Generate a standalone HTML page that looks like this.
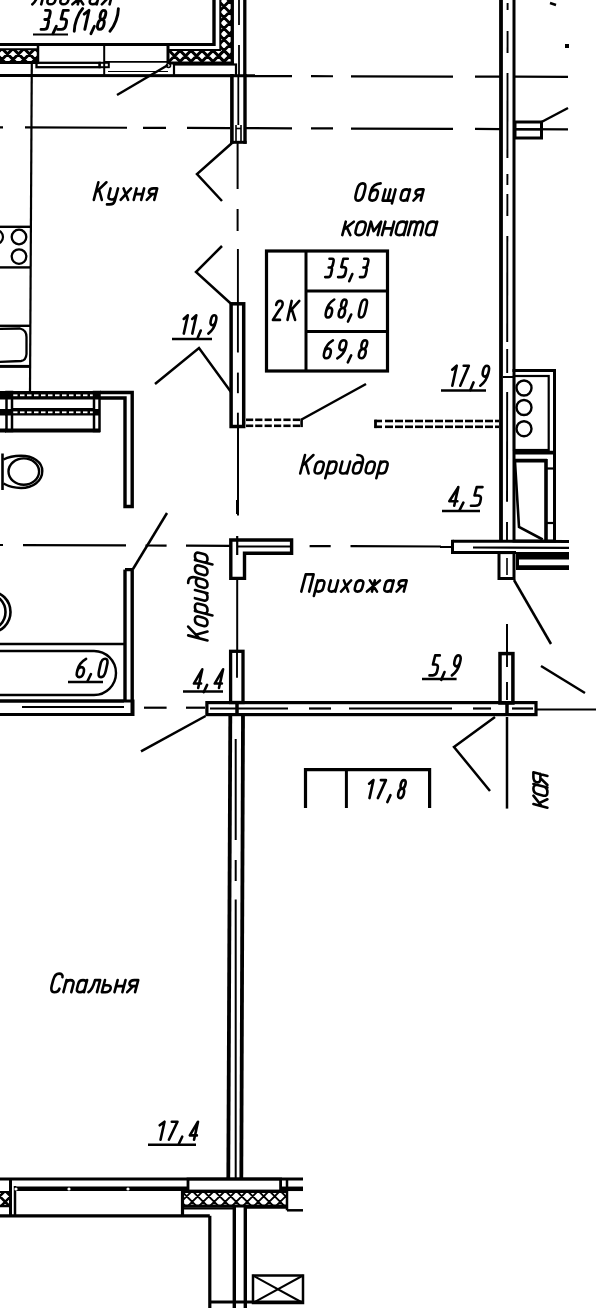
<!DOCTYPE html>
<html><head><meta charset="utf-8"><style>
html,body{margin:0;padding:0;background:#fff;}
body{width:603px;height:1308px;overflow:hidden;}
svg{display:block;}
text{font-family:"Liberation Sans",sans-serif;font-style:italic;fill:#000;stroke:#000;stroke-width:0.55px;}
</style></head><body>
<svg width="603" height="1308" viewBox="0 0 603 1308" stroke="#000" stroke-linecap="butt" fill="none">

<g transform="translate(31,4.3)"><path transform="translate(1.66,0) skewX(-14.57) scale(1.1900,0.9137)" d="M-0.3,0 C2.5,-3 3,-13 3,-20 H7.2 V0" vector-effect="non-scaling-stroke" stroke-width="2.6" stroke-linecap="round" stroke-linejoin="round" fill="none"/><path transform="translate(15.59,0) skewX(-14.57) scale(1.1900,0.8500)" d="M3.25,-14 C5.5,-14 6.5,-12 6.5,-9.5 V-4.5 C6.5,-2 5.5,0 3.25,0 C1,0 0,-2 0,-4.5 V-9.5 C0,-12 1,-14 3.25,-14 Z" vector-effect="non-scaling-stroke" stroke-width="2.6" stroke-linecap="round" stroke-linejoin="round" fill="none"/><path transform="translate(28.51,0) skewX(-14.57) scale(1.1900,0.9137)" d="M0.5,-20 C4.5,-20 6.5,-17 6.5,-12 V-4.2 C6.5,-1.5 5.2,0 3.2,0 C1.3,0 0,-1.5 0,-4.2 V-7.8 C0,-10.5 1.3,-12 3.2,-12 C5.2,-12 6.5,-10.5 6.5,-7.8" vector-effect="non-scaling-stroke" stroke-width="2.6" stroke-linecap="round" stroke-linejoin="round" fill="none"/><path transform="translate(41.43,0) skewX(-14.57) scale(1.1900,0.8500)" d="M0,-14 L9,0 M9,-14 L0,0 M4.5,-14 V0" vector-effect="non-scaling-stroke" stroke-width="2.6" stroke-linecap="round" stroke-linejoin="round" fill="none"/><path transform="translate(57.95,0) skewX(-14.57) scale(1.1900,0.8500)" d="M0,-14 V-4.2 C0,-1.5 1.3,0 3.2,0 C5.2,0 6.5,-1.5 6.5,-4.2 M6.5,-14 V0" vector-effect="non-scaling-stroke" stroke-width="2.6" stroke-linecap="round" stroke-linejoin="round" fill="none"/><path transform="translate(70.87,0) skewX(-14.57) scale(1.1900,0.8500)" d="M6.5,0 V-14 H3.2 C1.2,-14 0,-12.5 0,-10.5 C0,-8.5 1.2,-7 3.2,-7 H6.5 M3.6,-7 L0,0" vector-effect="non-scaling-stroke" stroke-width="2.6" stroke-linecap="round" stroke-linejoin="round" fill="none"/></g>
<path transform="translate(41.36,29.4) skewX(-12.41) scale(1.0495,0.9048)" d="M0,-21 H2.8 C4.2,-21 5,-20 5,-18 V-14 C5,-12 4.2,-11 2.8,-11 H1.2 M2.8,-11 C4.4,-11 5.3,-10 5.3,-8 V-3 C5.3,-1 4.3,0 2.8,0 H-0.3" vector-effect="non-scaling-stroke" stroke-width="2.9" stroke-linecap="round" stroke-linejoin="round" fill="none"/>
<path transform="translate(54.10,29.4) skewX(-12.41) scale(1.0495,0.9048)" d="M1.5,-3.5 L-0.2,4.7" vector-effect="non-scaling-stroke" stroke-width="2.9" stroke-linecap="round" stroke-linejoin="round" fill="none"/>
<path transform="translate(58.49,29.4) skewX(-12.41) scale(1.0495,0.9048)" d="M5.4,-21 H0.6 L0.3,-11.5 H3 C5,-11.5 6.2,-10 6.2,-7.5 V-4 C6.2,-1.5 4.8,0 2.8,0 H-0.8" vector-effect="non-scaling-stroke" stroke-width="2.9" stroke-linecap="round" stroke-linejoin="round" fill="none"/>
<path transform="translate(73.39,29.4) skewX(-12.41) scale(1.0495,0.9048)" d="M4.5,-23 C0.8,-17 -0.2,-6 1.2,2" vector-effect="non-scaling-stroke" stroke-width="2.9" stroke-linecap="round" stroke-linejoin="round" fill="none"/>
<path transform="translate(79.55,29.4) skewX(-12.41) scale(1.0495,0.9048)" d="M5,-21 L5,0 M1.2,-16.8 L5,-21" vector-effect="non-scaling-stroke" stroke-width="2.9" stroke-linecap="round" stroke-linejoin="round" fill="none"/>
<path transform="translate(92.10,29.4) skewX(-12.41) scale(1.0495,0.9048)" d="M1.5,-3.5 L-0.2,4.7" vector-effect="non-scaling-stroke" stroke-width="2.9" stroke-linecap="round" stroke-linejoin="round" fill="none"/>
<path transform="translate(96.62,29.4) skewX(-12.41) scale(1.0495,0.9048)" d="M3,-21 C4.8,-21 5.5,-19 5.5,-16 C5.5,-13 4.6,-11 3,-11 C1.4,-11 0.5,-13 0.5,-16 C0.5,-19 1.2,-21 3,-21 Z M3,-11 C5,-11 6,-9 6,-5.5 C6,-2 5,0 3,0 C1,0 0,-2 0,-5.5 C0,-9 1,-11 3,-11 Z" vector-effect="non-scaling-stroke" stroke-width="2.9" stroke-linecap="round" stroke-linejoin="round" fill="none"/>
<path transform="translate(112.97,29.4) skewX(-12.41) scale(1.0495,0.9048)" d="M0.8,-23 C2.2,-15 1.2,-4 -2.5,2" vector-effect="non-scaling-stroke" stroke-width="2.9" stroke-linecap="round" stroke-linejoin="round" fill="none"/>
<line x1="33" y1="34.5" x2="68" y2="34.5" stroke-width="2.2"/>
<clipPath id="hc1"><rect x="0" y="49" width="37" height="12.5"/></clipPath>
<path clip-path="url(#hc1)" d="M-90.50,44 L-68.00,66.5 M-70.50,44 L-93.00,66.5 M-79.50,44 L-57.00,66.5 M-59.50,44 L-82.00,66.5 M-68.50,44 L-46.00,66.5 M-48.50,44 L-71.00,66.5 M-57.50,44 L-35.00,66.5 M-37.50,44 L-60.00,66.5 M-46.50,44 L-24.00,66.5 M-26.50,44 L-49.00,66.5 M-35.50,44 L-13.00,66.5 M-15.50,44 L-38.00,66.5 M-24.50,44 L-2.00,66.5 M-4.50,44 L-27.00,66.5 M-13.50,44 L9.00,66.5 M6.50,44 L-16.00,66.5 M-2.50,44 L20.00,66.5 M17.50,44 L-5.00,66.5 M8.50,44 L31.00,66.5 M28.50,44 L6.00,66.5 M19.50,44 L42.00,66.5 M39.50,44 L17.00,66.5 M30.50,44 L53.00,66.5 M50.50,44 L28.00,66.5 M41.50,44 L64.00,66.5 M61.50,44 L39.00,66.5 M52.50,44 L75.00,66.5 M72.50,44 L50.00,66.5 M63.50,44 L86.00,66.5 M83.50,44 L61.00,66.5 M74.50,44 L97.00,66.5 M94.50,44 L72.00,66.5 M85.50,44 L108.00,66.5 M105.50,44 L83.00,66.5 M96.50,44 L119.00,66.5 M116.50,44 L94.00,66.5" stroke-width="3"/>
<line x1="0" y1="44.5" x2="214" y2="44.5" stroke-width="3.2"/>
<line x1="214" y1="0" x2="214" y2="46" stroke-width="3.4"/>
<line x1="0" y1="49.3" x2="37" y2="49.3" stroke-width="2"/>
<line x1="0" y1="62.5" x2="38" y2="62.5" stroke-width="3"/>
<line x1="38" y1="44" x2="38" y2="64" stroke-width="2.5"/>
<line x1="31.8" y1="62" x2="30" y2="392" stroke-width="2.2"/>
<rect x="36.5" y="62.8" width="63.099999999999994" height="4.400000000000006" stroke-width="2.3" fill="none"/>
<rect x="99.6" y="62.8" width="9.200000000000003" height="4.400000000000006" stroke-width="2" fill="none"/>
<line x1="104.2" y1="44.5" x2="104.2" y2="75.8" stroke-width="2"/>
<line x1="104" y1="61.9" x2="168" y2="61.9" stroke-width="1.8"/>
<line x1="108" y1="71.5" x2="168" y2="71.5" stroke-width="1.2"/>
<circle cx="168.5" cy="65.5" r="2" stroke-width="1.6" fill="none"/>
<line x1="0" y1="75.5" x2="292" y2="75.8" stroke-width="3"/>
<clipPath id="hc2"><rect x="169" y="50" width="63" height="12"/></clipPath>
<path clip-path="url(#hc2)" d="M75.50,45 L97.50,67 M97.50,45 L75.50,67 M86.50,45 L108.50,67 M108.50,45 L86.50,67 M97.50,45 L119.50,67 M119.50,45 L97.50,67 M108.50,45 L130.50,67 M130.50,45 L108.50,67 M119.50,45 L141.50,67 M141.50,45 L119.50,67 M130.50,45 L152.50,67 M152.50,45 L130.50,67 M141.50,45 L163.50,67 M163.50,45 L141.50,67 M152.50,45 L174.50,67 M174.50,45 L152.50,67 M163.50,45 L185.50,67 M185.50,45 L163.50,67 M174.50,45 L196.50,67 M196.50,45 L174.50,67 M185.50,45 L207.50,67 M207.50,45 L185.50,67 M196.50,45 L218.50,67 M218.50,45 L196.50,67 M207.50,45 L229.50,67 M229.50,45 L207.50,67 M218.50,45 L240.50,67 M240.50,45 L218.50,67 M229.50,45 L251.50,67 M251.50,45 L229.50,67 M240.50,45 L262.50,67 M262.50,45 L240.50,67 M251.50,45 L273.50,67 M273.50,45 L251.50,67 M262.50,45 L284.50,67 M284.50,45 L262.50,67 M273.50,45 L295.50,67 M295.50,45 L273.50,67 M284.50,45 L306.50,67 M306.50,45 L284.50,67 M295.50,45 L317.50,67 M317.50,45 L295.50,67" stroke-width="3"/>
<clipPath id="hc3"><rect x="220" y="0" width="12" height="62"/></clipPath>
<path clip-path="url(#hc3)" d="M25.50,-5 L97.50,67 M147.50,-5 L75.50,67 M36.50,-5 L108.50,67 M158.50,-5 L86.50,67 M47.50,-5 L119.50,67 M169.50,-5 L97.50,67 M58.50,-5 L130.50,67 M180.50,-5 L108.50,67 M69.50,-5 L141.50,67 M191.50,-5 L119.50,67 M80.50,-5 L152.50,67 M202.50,-5 L130.50,67 M91.50,-5 L163.50,67 M213.50,-5 L141.50,67 M102.50,-5 L174.50,67 M224.50,-5 L152.50,67 M113.50,-5 L185.50,67 M235.50,-5 L163.50,67 M124.50,-5 L196.50,67 M246.50,-5 L174.50,67 M135.50,-5 L207.50,67 M257.50,-5 L185.50,67 M146.50,-5 L218.50,67 M268.50,-5 L196.50,67 M157.50,-5 L229.50,67 M279.50,-5 L207.50,67 M168.50,-5 L240.50,67 M290.50,-5 L218.50,67 M179.50,-5 L251.50,67 M301.50,-5 L229.50,67 M190.50,-5 L262.50,67 M312.50,-5 L240.50,67 M201.50,-5 L273.50,67 M323.50,-5 L251.50,67 M212.50,-5 L284.50,67 M334.50,-5 L262.50,67 M223.50,-5 L295.50,67 M345.50,-5 L273.50,67 M234.50,-5 L306.50,67 M356.50,-5 L284.50,67 M245.50,-5 L317.50,67 M367.50,-5 L295.50,67 M256.50,-5 L328.50,67 M378.50,-5 L306.50,67 M267.50,-5 L339.50,67 M389.50,-5 L317.50,67 M278.50,-5 L350.50,67 M400.50,-5 L328.50,67 M289.50,-5 L361.50,67 M411.50,-5 L339.50,67 M300.50,-5 L372.50,67 M422.50,-5 L350.50,67" stroke-width="3"/>
<line x1="168" y1="44" x2="168" y2="63" stroke-width="3"/>
<line x1="232.3" y1="0" x2="232.3" y2="64" stroke-width="3.3"/>
<line x1="220.3" y1="0" x2="220.3" y2="50" stroke-width="2"/>
<line x1="168" y1="50" x2="221" y2="50" stroke-width="2"/>
<line x1="169" y1="63" x2="234" y2="63" stroke-width="3"/>
<rect x="174" y="64.5" width="62" height="11.299999999999997" stroke-width="2.2" fill="none"/>
<line x1="239.0" y1="0" x2="239.0" y2="25" stroke-width="1.8"/>
<line x1="239.0" y1="45" x2="239.0" y2="76" stroke-width="1.8"/>
<line x1="244.8" y1="0" x2="244.8" y2="76" stroke-width="3.3"/>
<line x1="231.9" y1="74" x2="231.9" y2="143.8" stroke-width="3.6"/>
<line x1="245" y1="74" x2="245" y2="143.8" stroke-width="3.4"/>
<line x1="230.2" y1="142.3" x2="246.6" y2="142.3" stroke-width="3"/>
<line x1="238.3" y1="76" x2="238.3" y2="125" stroke-width="1.8"/>
<line x1="236" y1="125" x2="236" y2="141" stroke-width="1.6"/>
<line x1="241" y1="125" x2="241" y2="141" stroke-width="1.6"/>
<line x1="236" y1="128.5" x2="241" y2="128.5" stroke-width="1.6"/>
<line x1="117" y1="95" x2="168" y2="65" stroke-width="2.5"/>
<line x1="0" y1="127.3" x2="3" y2="127.31" stroke-width="2.2"/>
<line x1="25" y1="127.39" x2="127" y2="127.75" stroke-width="2.2"/>
<line x1="143" y1="127.8" x2="166" y2="127.88" stroke-width="2.2"/>
<line x1="187" y1="127.96" x2="230" y2="128.11" stroke-width="2.2"/>
<line x1="246" y1="128.17" x2="292" y2="128.33" stroke-width="2.2"/>
<line x1="311" y1="128.4" x2="333" y2="128.47" stroke-width="2.2"/>
<line x1="351" y1="128.54" x2="453" y2="128.9" stroke-width="2.2"/>
<line x1="475" y1="128.97" x2="500" y2="129.06" stroke-width="2.2"/>
<line x1="515" y1="129.11" x2="568" y2="129.3" stroke-width="2.2"/>
<line x1="311" y1="76.21" x2="333" y2="76.26" stroke-width="2.2"/>
<line x1="351" y1="76.3" x2="453" y2="76.54" stroke-width="2.2"/>
<line x1="475" y1="76.59" x2="500" y2="76.64" stroke-width="2.2"/>
<line x1="515" y1="76.68" x2="568" y2="76.8" stroke-width="2.2"/>
<line x1="501" y1="0" x2="501" y2="541" stroke-width="3.8"/>
<line x1="514" y1="0" x2="514" y2="372" stroke-width="3"/>
<line x1="507.6" y1="3" x2="507.59" y2="10" stroke-width="1.9"/>
<line x1="507.57" y1="31" x2="507.54" y2="53" stroke-width="1.9"/>
<line x1="507.52" y1="73" x2="507.42" y2="158" stroke-width="1.9"/>
<line x1="507.41" y1="174" x2="507.39" y2="185" stroke-width="1.9"/>
<line x1="507.38" y1="194" x2="507.36" y2="216" stroke-width="1.9"/>
<line x1="507.34" y1="236" x2="507.22" y2="342" stroke-width="1.9"/>
<line x1="507.21" y1="349" x2="507.19" y2="373" stroke-width="1.9"/>
<line x1="507.17" y1="392" x2="507.04" y2="501.7" stroke-width="1.9"/>
<line x1="507.02" y1="522" x2="507.0" y2="541" stroke-width="1.9"/>
<rect x="515" y="122" width="26.5" height="16" stroke-width="3" fill="none"/>
<line x1="515" y1="129.5" x2="541.5" y2="129.5" stroke-width="2"/>
<line x1="541.5" y1="122" x2="568" y2="108" stroke-width="2.5"/>
<line x1="550" y1="3" x2="556" y2="5" stroke-width="2.5"/>
<rect x="565" y="44" width="4" height="4" stroke="none" fill="#000"/>
<g transform="translate(92.5,199.9)"><path transform="translate(1.30,0) skewX(-14.57) scale(1.1480,0.8815)" d="M0,0 V-20 M7,-20 L0.3,-8.8 M2.4,-11.2 L7,0" vector-effect="non-scaling-stroke" stroke-width="2.6" stroke-linecap="round" stroke-linejoin="round" fill="none"/><path transform="translate(15.08,0) skewX(-14.57) scale(1.1480,0.8200)" d="M0,-14 V-5 C0,-2 1.3,-0.5 3.2,-0.5 C5,-0.5 6.5,-2 6.5,-5 M6.5,-14 V1.5 C6.5,4 5,5.5 3,5.5 H0.5" vector-effect="non-scaling-stroke" stroke-width="2.6" stroke-linecap="round" stroke-linejoin="round" fill="none"/><path transform="translate(28.14,0) skewX(-14.57) scale(1.1480,0.8200)" d="M0,-14 L6.5,0 M6.5,-14 L0,0" vector-effect="non-scaling-stroke" stroke-width="2.6" stroke-linecap="round" stroke-linejoin="round" fill="none"/><path transform="translate(41.20,0) skewX(-14.57) scale(1.1480,0.8200)" d="M0,-14 V0 M6.5,-14 V0 M0,-7 H6.5" vector-effect="non-scaling-stroke" stroke-width="2.6" stroke-linecap="round" stroke-linejoin="round" fill="none"/><path transform="translate(54.25,0) skewX(-14.57) scale(1.1480,0.8200)" d="M6.5,0 V-14 H3.2 C1.2,-14 0,-12.5 0,-10.5 C0,-8.5 1.2,-7 3.2,-7 H6.5 M3.6,-7 L0,0" vector-effect="non-scaling-stroke" stroke-width="2.6" stroke-linecap="round" stroke-linejoin="round" fill="none"/></g>
<polyline points="232,143 197,174 222,201" stroke-width="2.5" fill="none"/>
<line x1="237.6" y1="143" x2="237.6" y2="189" stroke-width="2"/>
<line x1="237.6" y1="209" x2="237.6" y2="231" stroke-width="2"/>
<polyline points="222,246 196,272 231,303.8" stroke-width="2.5" fill="none"/>
<rect x="231.1" y="303.8" width="12.599999999999994" height="122.69999999999999" stroke-width="3.5" fill="none"/>
<line x1="237.9" y1="249" x2="237.9" y2="352.5" stroke-width="1.9"/>
<line x1="237.9" y1="372.6" x2="237.9" y2="393.2" stroke-width="1.9"/>
<line x1="237.9" y1="412.7" x2="237.9" y2="427" stroke-width="1.9"/>
<line x1="-2" y1="226.8" x2="30" y2="226.8" stroke-width="2.4"/>
<line x1="-2" y1="267.4" x2="30" y2="267.4" stroke-width="2.4"/>
<circle cx="19" cy="237" r="7.3" stroke-width="2.3" fill="none"/>
<circle cx="19" cy="256.6" r="7.3" stroke-width="2.3" fill="none"/>
<circle cx="-4" cy="237" r="7" stroke-width="2.2" fill="none"/>
<line x1="-2" y1="325.8" x2="30" y2="325.8" stroke-width="2.4"/>
<line x1="-2" y1="366.4" x2="30" y2="366.4" stroke-width="3"/>
<path d="M-2,329 L20,328.5 Q26.5,330 26.5,337 L26.5,354 Q26,360.5 21,361 L-2,362" stroke-width="2.3" fill="none"/>
<rect x="266.5" y="251" width="121.0" height="120" stroke-width="3.2" fill="none"/>
<line x1="306" y1="251" x2="306" y2="371" stroke-width="3"/>
<line x1="306" y1="291" x2="387.5" y2="291" stroke-width="3"/>
<line x1="306" y1="331.5" x2="387.5" y2="331.5" stroke-width="3"/>
<path transform="translate(272.90,319.9) skewX(-12.41) scale(1.2667,0.9048)" d="M0,-16.5 C0,-19.5 1.2,-21 2.5,-21 C3.8,-21 5,-19.5 5,-16.5 C5,-14 4.2,-12.5 3.3,-11 L0,0 H5.6" vector-effect="non-scaling-stroke" stroke-width="2.6" stroke-linecap="round" stroke-linejoin="round" fill="none"/>
<path transform="translate(287.52,319.9) skewX(-12.41) scale(1.2667,0.9048)" d="M0,0 V-21 M6,-21 L0,-8.5 M1.8,-11 L6,0" vector-effect="non-scaling-stroke" stroke-width="2.6" stroke-linecap="round" stroke-linejoin="round" fill="none"/>
<path transform="translate(325.48,277.1) skewX(-12.41) scale(0.9222,0.8714)" d="M0,-21 H2.8 C4.2,-21 5,-20 5,-18 V-14 C5,-12 4.2,-11 2.8,-11 H1.2 M2.8,-11 C4.4,-11 5.3,-10 5.3,-8 V-3 C5.3,-1 4.3,0 2.8,0 H-0.3" vector-effect="non-scaling-stroke" stroke-width="2.6" stroke-linecap="round" stroke-linejoin="round" fill="none"/>
<path transform="translate(338.80,277.1) skewX(-12.41) scale(0.9222,0.8714)" d="M5.4,-21 H0.6 L0.3,-11.5 H3 C5,-11.5 6.2,-10 6.2,-7.5 V-4 C6.2,-1.5 4.8,0 2.8,0 H-0.8" vector-effect="non-scaling-stroke" stroke-width="2.6" stroke-linecap="round" stroke-linejoin="round" fill="none"/>
<path transform="translate(350.29,277.1) skewX(-12.41) scale(0.9222,0.8714)" d="M1.5,-3.5 L-0.2,4.7" vector-effect="non-scaling-stroke" stroke-width="2.6" stroke-linecap="round" stroke-linejoin="round" fill="none"/>
<path transform="translate(360.22,277.1) skewX(-12.41) scale(0.9222,0.8714)" d="M0,-21 H2.8 C4.2,-21 5,-20 5,-18 V-14 C5,-12 4.2,-11 2.8,-11 H1.2 M2.8,-11 C4.4,-11 5.3,-10 5.3,-8 V-3 C5.3,-1 4.3,0 2.8,0 H-0.3" vector-effect="non-scaling-stroke" stroke-width="2.6" stroke-linecap="round" stroke-linejoin="round" fill="none"/>
<path transform="translate(324.82,317.5) skewX(-12.41) scale(0.9931,0.8571)" d="M5.5,-21 C2,-18 0,-13 0,-8 V-5 C0,-2 1.3,0 3,0 C4.7,0 6,-2 6,-5 V-6.5 C6,-9.5 4.7,-11.5 3,-11.5 C1.3,-11.5 0,-9.5 0,-6.5" vector-effect="non-scaling-stroke" stroke-width="2.6" stroke-linecap="round" stroke-linejoin="round" fill="none"/>
<path transform="translate(337.86,317.5) skewX(-12.41) scale(0.9931,0.8571)" d="M3,-21 C4.8,-21 5.5,-19 5.5,-16 C5.5,-13 4.6,-11 3,-11 C1.4,-11 0.5,-13 0.5,-16 C0.5,-19 1.2,-21 3,-21 Z M3,-11 C5,-11 6,-9 6,-5.5 C6,-2 5,0 3,0 C1,0 0,-2 0,-5.5 C0,-9 1,-11 3,-11 Z" vector-effect="non-scaling-stroke" stroke-width="2.6" stroke-linecap="round" stroke-linejoin="round" fill="none"/>
<path transform="translate(349.08,317.5) skewX(-12.41) scale(0.9931,0.8571)" d="M1.5,-3.5 L-0.2,4.7" vector-effect="non-scaling-stroke" stroke-width="2.6" stroke-linecap="round" stroke-linejoin="round" fill="none"/>
<path transform="translate(357.96,317.5) skewX(-12.41) scale(0.9931,0.8571)" d="M3,-21 C5.6,-21 6,-17.5 6,-14 V-7 C6,-3.5 5.6,0 3,0 C0.4,0 0,-3.5 0,-7 V-14 C0,-17.5 0.4,-21 3,-21 Z" vector-effect="non-scaling-stroke" stroke-width="2.6" stroke-linecap="round" stroke-linejoin="round" fill="none"/>
<path transform="translate(323.01,358.3) skewX(-12.41) scale(1.0799,0.8571)" d="M5.5,-21 C2,-18 0,-13 0,-8 V-5 C0,-2 1.3,0 3,0 C4.7,0 6,-2 6,-5 V-6.5 C6,-9.5 4.7,-11.5 3,-11.5 C1.3,-11.5 0,-9.5 0,-6.5" vector-effect="non-scaling-stroke" stroke-width="2.6" stroke-linecap="round" stroke-linejoin="round" fill="none"/>
<path transform="translate(336.77,358.3) skewX(-12.41) scale(1.0799,0.8571)" d="M0.5,0 C4,-3 6,-8 6,-13 V-16 C6,-19 4.7,-21 3,-21 C1.3,-21 0,-19 0,-16 V-14.5 C0,-11.5 1.3,-9.5 3,-9.5 C4.7,-9.5 6,-11.5 6,-14.5" vector-effect="non-scaling-stroke" stroke-width="2.6" stroke-linecap="round" stroke-linejoin="round" fill="none"/>
<path transform="translate(348.92,358.3) skewX(-12.41) scale(1.0799,0.8571)" d="M1.5,-3.5 L-0.2,4.7" vector-effect="non-scaling-stroke" stroke-width="2.6" stroke-linecap="round" stroke-linejoin="round" fill="none"/>
<path transform="translate(358.01,358.3) skewX(-12.41) scale(1.0799,0.8571)" d="M3,-21 C4.8,-21 5.5,-19 5.5,-16 C5.5,-13 4.6,-11 3,-11 C1.4,-11 0.5,-13 0.5,-16 C0.5,-19 1.2,-21 3,-21 Z M3,-11 C5,-11 6,-9 6,-5.5 C6,-2 5,0 3,0 C1,0 0,-2 0,-5.5 C0,-9 1,-11 3,-11 Z" vector-effect="non-scaling-stroke" stroke-width="2.6" stroke-linecap="round" stroke-linejoin="round" fill="none"/>
<g transform="translate(354.1,200.6)"><path transform="translate(0.17,0) skewX(-14.57) scale(1.1200,0.8600)" d="M3.5,-20 C6.3,-20 7,-16.5 7,-13 V-7 C7,-3.5 6.3,0 3.5,0 C0.7,0 0,-3.5 0,-7 V-13 C0,-16.5 0.7,-20 3.5,-20 Z" vector-effect="non-scaling-stroke" stroke-width="2.6" stroke-linecap="round" stroke-linejoin="round" fill="none"/><path transform="translate(14.46,0) skewX(-14.57) scale(1.1200,0.8600)" d="M6.8,-20 C3,-19.5 0.3,-17.5 0,-12 V-4.2 C0,-1.5 1.3,0 3.3,0 C5.3,0 6.6,-1.5 6.6,-4.2 V-8.3 C6.6,-11 5.3,-12.5 3.3,-12.5 C1.3,-12.5 0,-11 0,-8.3" vector-effect="non-scaling-stroke" stroke-width="2.6" stroke-linecap="round" stroke-linejoin="round" fill="none"/><path transform="translate(28.46,0) skewX(-14.57) scale(1.1200,0.8000)" d="M0,-14 V0 H9 V-14 M4.5,-14 V0 M9,0 V3.5" vector-effect="non-scaling-stroke" stroke-width="2.6" stroke-linecap="round" stroke-linejoin="round" fill="none"/><path transform="translate(45.76,0) skewX(-14.57) scale(1.1200,0.8000)" d="M6.5,-14 V0 M6.5,-4 C6.5,-1.5 5,0 3.2,0 C1.3,0 0,-1.5 0,-4 V-10 C0,-12.5 1.3,-14 3.2,-14 C5,-14 6.5,-12.5 6.5,-10" vector-effect="non-scaling-stroke" stroke-width="2.6" stroke-linecap="round" stroke-linejoin="round" fill="none"/><path transform="translate(59.31,0) skewX(-14.57) scale(1.1200,0.8000)" d="M6.5,0 V-14 H3.2 C1.2,-14 0,-12.5 0,-10.5 C0,-8.5 1.2,-7 3.2,-7 H6.5 M3.6,-7 L0,0" vector-effect="non-scaling-stroke" stroke-width="2.6" stroke-linecap="round" stroke-linejoin="round" fill="none"/></g>
<g transform="translate(341,235.1)"><path transform="translate(1.30,0) skewX(-14.57) scale(1.3440,0.9600)" d="M0,0 V-14 M6,-14 L0.3,-6 M2,-7.8 L6,0" vector-effect="non-scaling-stroke" stroke-width="2.6" stroke-linecap="round" stroke-linejoin="round" fill="none"/><path transform="translate(13.52,0) skewX(-14.57) scale(1.3440,0.9600)" d="M3.25,-14 C5.5,-14 6.5,-12 6.5,-9.5 V-4.5 C6.5,-2 5.5,0 3.25,0 C1,0 0,-2 0,-4.5 V-9.5 C0,-12 1,-14 3.25,-14 Z" vector-effect="non-scaling-stroke" stroke-width="2.6" stroke-linecap="round" stroke-linejoin="round" fill="none"/><path transform="translate(26.46,0) skewX(-14.57) scale(1.3440,0.9600)" d="M0,0 V-14 L3.8,-4 L7.6,-14 V0" vector-effect="non-scaling-stroke" stroke-width="2.6" stroke-linecap="round" stroke-linejoin="round" fill="none"/><path transform="translate(40.98,0) skewX(-14.57) scale(1.3440,0.9600)" d="M0,-14 V0 M6.5,-14 V0 M0,-7 H6.5" vector-effect="non-scaling-stroke" stroke-width="2.6" stroke-linecap="round" stroke-linejoin="round" fill="none"/><path transform="translate(53.92,0) skewX(-14.57) scale(1.3440,0.9600)" d="M6.5,-14 V0 M6.5,-4 C6.5,-1.5 5,0 3.2,0 C1.3,0 0,-1.5 0,-4 V-10 C0,-12.5 1.3,-14 3.2,-14 C5,-14 6.5,-12.5 6.5,-10" vector-effect="non-scaling-stroke" stroke-width="2.6" stroke-linecap="round" stroke-linejoin="round" fill="none"/><path transform="translate(66.86,0) skewX(-14.57) scale(1.3440,0.9600)" d="M0,0 V-14 M0,-10 C0,-12.5 1,-14 2.4,-14 C3.8,-14 4.7,-12.5 4.7,-10 V0 M4.7,-10 C4.7,-12.5 5.6,-14 7,-14 C8.4,-14 9.4,-12.5 9.4,-10 V0" vector-effect="non-scaling-stroke" stroke-width="2.6" stroke-linecap="round" stroke-linejoin="round" fill="none"/><path transform="translate(83.97,0) skewX(-14.57) scale(1.3440,0.9600)" d="M6.5,-14 V0 M6.5,-4 C6.5,-1.5 5,0 3.2,0 C1.3,0 0,-1.5 0,-4 V-10 C0,-12.5 1.3,-14 3.2,-14 C5,-14 6.5,-12.5 6.5,-10" vector-effect="non-scaling-stroke" stroke-width="2.6" stroke-linecap="round" stroke-linejoin="round" fill="none"/></g>
<path transform="translate(179.43,333.6) skewX(-12.41) scale(0.8714,0.8714)" d="M5,-21 L5,0 M1.2,-16.8 L5,-21" vector-effect="non-scaling-stroke" stroke-width="2.6" stroke-linecap="round" stroke-linejoin="round" fill="none"/>
<path transform="translate(187.93,333.6) skewX(-12.41) scale(0.8714,0.8714)" d="M5,-21 L5,0 M1.2,-16.8 L5,-21" vector-effect="non-scaling-stroke" stroke-width="2.6" stroke-linecap="round" stroke-linejoin="round" fill="none"/>
<path transform="translate(198.79,333.6) skewX(-12.41) scale(0.8714,0.8714)" d="M1.5,-3.5 L-0.2,4.7" vector-effect="non-scaling-stroke" stroke-width="2.6" stroke-linecap="round" stroke-linejoin="round" fill="none"/>
<path transform="translate(207.91,333.6) skewX(-12.41) scale(0.8714,0.8714)" d="M0.5,0 C4,-3 6,-8 6,-13 V-16 C6,-19 4.7,-21 3,-21 C1.3,-21 0,-19 0,-16 V-14.5 C0,-11.5 1.3,-9.5 3,-9.5 C4.7,-9.5 6,-11.5 6,-14.5" vector-effect="non-scaling-stroke" stroke-width="2.6" stroke-linecap="round" stroke-linejoin="round" fill="none"/>
<line x1="172" y1="339" x2="212" y2="339" stroke-width="2.5"/>
<polyline points="155,384 199,348 231,392" stroke-width="2.5" fill="none"/>
<path transform="translate(447.54,385.7) skewX(-12.41) scale(0.9524,0.9524)" d="M5,-21 L5,0 M1.2,-16.8 L5,-21" vector-effect="non-scaling-stroke" stroke-width="2.6" stroke-linecap="round" stroke-linejoin="round" fill="none"/>
<path transform="translate(459.47,385.7) skewX(-12.41) scale(0.9524,0.9524)" d="M-0.2,-21 H5.2 L0.8,0" vector-effect="non-scaling-stroke" stroke-width="2.6" stroke-linecap="round" stroke-linejoin="round" fill="none"/>
<path transform="translate(471.40,385.7) skewX(-12.41) scale(0.9524,0.9524)" d="M1.5,-3.5 L-0.2,4.7" vector-effect="non-scaling-stroke" stroke-width="2.6" stroke-linecap="round" stroke-linejoin="round" fill="none"/>
<path transform="translate(479.82,385.7) skewX(-12.41) scale(0.9524,0.9524)" d="M0.5,0 C4,-3 6,-8 6,-13 V-16 C6,-19 4.7,-21 3,-21 C1.3,-21 0,-19 0,-16 V-14.5 C0,-11.5 1.3,-9.5 3,-9.5 C4.7,-9.5 6,-11.5 6,-14.5" vector-effect="non-scaling-stroke" stroke-width="2.6" stroke-linecap="round" stroke-linejoin="round" fill="none"/>
<line x1="441" y1="390.5" x2="486" y2="390.5" stroke-width="2.5"/>
<line x1="246" y1="419.8" x2="253.2" y2="419.8" stroke-width="2.6"/>
<line x1="255.2" y1="419.8" x2="262.4" y2="419.8" stroke-width="2.6"/>
<line x1="264.59999999999997" y1="419.8" x2="271.79999999999995" y2="419.8" stroke-width="2.6"/>
<line x1="274.0" y1="419.8" x2="281.2" y2="419.8" stroke-width="2.6"/>
<line x1="283.4" y1="419.8" x2="290.59999999999997" y2="419.8" stroke-width="2.6"/>
<line x1="292.8" y1="419.8" x2="300.0" y2="419.8" stroke-width="2.6"/>
<line x1="246" y1="425.8" x2="253.2" y2="425.8" stroke-width="2.6"/>
<line x1="255.2" y1="425.8" x2="262.4" y2="425.8" stroke-width="2.6"/>
<line x1="264.59999999999997" y1="425.8" x2="271.79999999999995" y2="425.8" stroke-width="2.6"/>
<line x1="274.0" y1="425.8" x2="281.2" y2="425.8" stroke-width="2.6"/>
<line x1="283.4" y1="425.8" x2="290.59999999999997" y2="425.8" stroke-width="2.6"/>
<line x1="292.8" y1="425.8" x2="300.0" y2="425.8" stroke-width="2.6"/>
<line x1="301.6" y1="418.5" x2="301.6" y2="427.1" stroke-width="2.6"/>
<line x1="301.6" y1="419.5" x2="366" y2="384" stroke-width="2.5"/>
<line x1="374.5" y1="421.0" x2="382" y2="421.0" stroke-width="2.6"/>
<line x1="385" y1="421.0" x2="393" y2="421.0" stroke-width="2.6"/>
<line x1="395" y1="421.0" x2="403" y2="421.0" stroke-width="2.6"/>
<line x1="405" y1="421.0" x2="413" y2="421.0" stroke-width="2.6"/>
<line x1="415" y1="421.0" x2="423" y2="421.0" stroke-width="2.6"/>
<line x1="425" y1="421.0" x2="433" y2="421.0" stroke-width="2.6"/>
<line x1="435" y1="421.0" x2="443" y2="421.0" stroke-width="2.6"/>
<line x1="445" y1="421.0" x2="453" y2="421.0" stroke-width="2.6"/>
<line x1="455" y1="421.0" x2="463" y2="421.0" stroke-width="2.6"/>
<line x1="465" y1="421.0" x2="473" y2="421.0" stroke-width="2.6"/>
<line x1="475" y1="421.0" x2="483" y2="421.0" stroke-width="2.6"/>
<line x1="485" y1="421.0" x2="493" y2="421.0" stroke-width="2.6"/>
<line x1="495" y1="421.0" x2="499" y2="421.0" stroke-width="2.6"/>
<line x1="374.5" y1="426.8" x2="382" y2="426.8" stroke-width="2.6"/>
<line x1="385" y1="426.8" x2="393" y2="426.8" stroke-width="2.6"/>
<line x1="395" y1="426.8" x2="403" y2="426.8" stroke-width="2.6"/>
<line x1="405" y1="426.8" x2="413" y2="426.8" stroke-width="2.6"/>
<line x1="415" y1="426.8" x2="423" y2="426.8" stroke-width="2.6"/>
<line x1="425" y1="426.8" x2="433" y2="426.8" stroke-width="2.6"/>
<line x1="435" y1="426.8" x2="443" y2="426.8" stroke-width="2.6"/>
<line x1="445" y1="426.8" x2="453" y2="426.8" stroke-width="2.6"/>
<line x1="455" y1="426.8" x2="463" y2="426.8" stroke-width="2.6"/>
<line x1="465" y1="426.8" x2="473" y2="426.8" stroke-width="2.6"/>
<line x1="475" y1="426.8" x2="483" y2="426.8" stroke-width="2.6"/>
<line x1="485" y1="426.8" x2="493" y2="426.8" stroke-width="2.6"/>
<line x1="495" y1="426.8" x2="499" y2="426.8" stroke-width="2.6"/>
<line x1="375.5" y1="419.7" x2="375.5" y2="428.1" stroke-width="2.8"/>
<g transform="translate(298.9,473.5)"><path transform="translate(1.30,0) skewX(-14.57) scale(1.2040,0.9245)" d="M0,0 V-20 M7,-20 L0.3,-8.8 M2.4,-11.2 L7,0" vector-effect="non-scaling-stroke" stroke-width="2.6" stroke-linecap="round" stroke-linejoin="round" fill="none"/><path transform="translate(14.78,0) skewX(-14.57) scale(1.2040,0.8600)" d="M3.25,-14 C5.5,-14 6.5,-12 6.5,-9.5 V-4.5 C6.5,-2 5.5,0 3.25,0 C1,0 0,-2 0,-4.5 V-9.5 C0,-12 1,-14 3.25,-14 Z" vector-effect="non-scaling-stroke" stroke-width="2.6" stroke-linecap="round" stroke-linejoin="round" fill="none"/><path transform="translate(27.55,0) skewX(-14.57) scale(1.2040,0.8600)" d="M0,5.5 V-14 M0,-9.8 C0,-12.5 1.3,-14 3.2,-14 C5.2,-14 6.5,-12.5 6.5,-9.8 V-4.2 C6.5,-1.5 5.2,0 3.2,0 C1.3,0 0,-1.5 0,-4.2" vector-effect="non-scaling-stroke" stroke-width="2.6" stroke-linecap="round" stroke-linejoin="round" fill="none"/><path transform="translate(40.32,0) skewX(-14.57) scale(1.2040,0.8600)" d="M0,-14 V-4.2 C0,-1.5 1.3,0 3.2,0 C5.2,0 6.5,-1.5 6.5,-4.2 M6.5,-14 V0" vector-effect="non-scaling-stroke" stroke-width="2.6" stroke-linecap="round" stroke-linejoin="round" fill="none"/><path transform="translate(53.09,0) skewX(-14.57) scale(1.2040,0.9245)" d="M0.5,-20 C4.5,-20 6.5,-17 6.5,-12 V-4.2 C6.5,-1.5 5.2,0 3.2,0 C1.3,0 0,-1.5 0,-4.2 V-7.8 C0,-10.5 1.3,-12 3.2,-12 C5.2,-12 6.5,-10.5 6.5,-7.8" vector-effect="non-scaling-stroke" stroke-width="2.6" stroke-linecap="round" stroke-linejoin="round" fill="none"/><path transform="translate(65.86,0) skewX(-14.57) scale(1.2040,0.8600)" d="M3.25,-14 C5.5,-14 6.5,-12 6.5,-9.5 V-4.5 C6.5,-2 5.5,0 3.25,0 C1,0 0,-2 0,-4.5 V-9.5 C0,-12 1,-14 3.25,-14 Z" vector-effect="non-scaling-stroke" stroke-width="2.6" stroke-linecap="round" stroke-linejoin="round" fill="none"/><path transform="translate(78.63,0) skewX(-14.57) scale(1.2040,0.8600)" d="M0,5.5 V-14 M0,-9.8 C0,-12.5 1.3,-14 3.2,-14 C5.2,-14 6.5,-12.5 6.5,-9.8 V-4.2 C6.5,-1.5 5.2,0 3.2,0 C1.3,0 0,-1.5 0,-4.2" vector-effect="non-scaling-stroke" stroke-width="2.6" stroke-linecap="round" stroke-linejoin="round" fill="none"/></g>
<rect x="514" y="370.5" width="40.5" height="170.5" stroke-width="3" fill="none"/>
<rect x="514" y="376" width="34.700000000000045" height="74" stroke-width="2.2" fill="none"/>
<circle cx="524" cy="388" r="7.5" stroke-width="2.4" fill="none"/>
<circle cx="524" cy="407.5" r="7.5" stroke-width="2.4" fill="none"/>
<circle cx="524" cy="428.7" r="7.5" stroke-width="2.4" fill="none"/>
<line x1="503" y1="377" x2="513" y2="377" stroke-width="2"/>
<line x1="513" y1="452.6" x2="554" y2="452.6" stroke-width="3.8"/>
<line x1="514" y1="460.6" x2="547" y2="460.6" stroke-width="3.6"/>
<line x1="546" y1="459" x2="546" y2="541" stroke-width="3.6"/>
<line x1="546" y1="468.5" x2="554" y2="468.5" stroke-width="2.2"/>
<line x1="546" y1="523" x2="554" y2="523" stroke-width="2.2"/>
<polyline points="515,462 519,527 542.7,539.5" stroke-width="2.6" fill="none"/>
<path transform="translate(448.93,505.7) skewX(-12.41) scale(1.2025,0.8857)" d="M4.4,0 V-21 L-0.5,-5 H6.2" vector-effect="non-scaling-stroke" stroke-width="2.6" stroke-linecap="round" stroke-linejoin="round" fill="none"/>
<path transform="translate(460.87,505.7) skewX(-12.41) scale(1.2025,0.8857)" d="M1.5,-3.5 L-0.2,4.7" vector-effect="non-scaling-stroke" stroke-width="2.6" stroke-linecap="round" stroke-linejoin="round" fill="none"/>
<path transform="translate(471.91,505.7) skewX(-12.41) scale(1.2025,0.8857)" d="M5.4,-21 H0.6 L0.3,-11.5 H3 C5,-11.5 6.2,-10 6.2,-7.5 V-4 C6.2,-1.5 4.8,0 2.8,0 H-0.8" vector-effect="non-scaling-stroke" stroke-width="2.6" stroke-linecap="round" stroke-linejoin="round" fill="none"/>
<line x1="442" y1="511" x2="480" y2="511" stroke-width="2.5"/>
<polyline points="100,392.5 132.2,392.5 132.2,506.5 125,506.5 125,398 100,398" stroke-width="3.4" fill="none"/>
<rect x="0" y="391" width="100" height="8.5" stroke="none" fill="#000"/>
<rect x="0" y="409" width="6" height="6.5" stroke="none" fill="#000"/>
<line x1="0" y1="430.5" x2="6" y2="430.5" stroke-width="4"/>
<line x1="13" y1="395.3" x2="17.5" y2="395.3" stroke-width="1.8" stroke="#fff"/>
<line x1="20" y1="395.3" x2="24.5" y2="395.3" stroke-width="1.8" stroke="#fff"/>
<line x1="27" y1="395.3" x2="31.5" y2="395.3" stroke-width="1.8" stroke="#fff"/>
<line x1="34" y1="395.3" x2="38.5" y2="395.3" stroke-width="1.8" stroke="#fff"/>
<line x1="41" y1="395.3" x2="45.5" y2="395.3" stroke-width="1.8" stroke="#fff"/>
<line x1="48" y1="395.3" x2="52.5" y2="395.3" stroke-width="1.8" stroke="#fff"/>
<line x1="55" y1="395.3" x2="59.5" y2="395.3" stroke-width="1.8" stroke="#fff"/>
<line x1="62" y1="395.3" x2="66.5" y2="395.3" stroke-width="1.8" stroke="#fff"/>
<line x1="69" y1="395.3" x2="73.5" y2="395.3" stroke-width="1.8" stroke="#fff"/>
<line x1="76" y1="395.3" x2="80.5" y2="395.3" stroke-width="1.8" stroke="#fff"/>
<line x1="83" y1="395.3" x2="87.5" y2="395.3" stroke-width="1.8" stroke="#fff"/>
<line x1="90" y1="395.3" x2="94.5" y2="395.3" stroke-width="1.8" stroke="#fff"/>
<rect x="5" y="409" width="95" height="6.5" stroke="none" fill="#000"/>
<line x1="13" y1="412.3" x2="17.5" y2="412.3" stroke-width="1.8" stroke="#fff"/>
<line x1="20" y1="412.3" x2="24.5" y2="412.3" stroke-width="1.8" stroke="#fff"/>
<line x1="27" y1="412.3" x2="31.5" y2="412.3" stroke-width="1.8" stroke="#fff"/>
<line x1="34" y1="412.3" x2="38.5" y2="412.3" stroke-width="1.8" stroke="#fff"/>
<line x1="41" y1="412.3" x2="45.5" y2="412.3" stroke-width="1.8" stroke="#fff"/>
<line x1="48" y1="412.3" x2="52.5" y2="412.3" stroke-width="1.8" stroke="#fff"/>
<line x1="55" y1="412.3" x2="59.5" y2="412.3" stroke-width="1.8" stroke="#fff"/>
<line x1="62" y1="412.3" x2="66.5" y2="412.3" stroke-width="1.8" stroke="#fff"/>
<line x1="69" y1="412.3" x2="73.5" y2="412.3" stroke-width="1.8" stroke="#fff"/>
<line x1="76" y1="412.3" x2="80.5" y2="412.3" stroke-width="1.8" stroke="#fff"/>
<line x1="83" y1="412.3" x2="87.5" y2="412.3" stroke-width="1.8" stroke="#fff"/>
<line x1="90" y1="412.3" x2="94.5" y2="412.3" stroke-width="1.8" stroke="#fff"/>
<line x1="5" y1="430.5" x2="100" y2="430.5" stroke-width="4"/>
<rect x="6.5" y="392" width="5.5" height="39" stroke-width="2.5" fill="none"/>
<rect x="94" y="392" width="5.5" height="39" stroke-width="2.5" fill="none"/>
<line x1="12" y1="409" x2="94" y2="409" stroke-width="2"/>
<path d="M3.5,459.5 C8,457 14,455.7 21,455.7 C33,455.7 42.3,462 42.3,471 C42.3,481 33,488 21,488 C14,488 8,486 3.5,483.5" stroke-width="2.4" fill="none"/>
<line x1="2.5" y1="453.5" x2="2.5" y2="490" stroke-width="2.6"/>
<ellipse cx="23.8" cy="471.6" rx="15.3" ry="13.2" stroke-width="2.4" fill="none"/>
<line x1="0" y1="545.0" x2="3" y2="545.01" stroke-width="2.2"/>
<line x1="23" y1="545.08" x2="126" y2="545.43" stroke-width="2.2"/>
<line x1="145.5" y1="545.49" x2="166.6" y2="545.57" stroke-width="2.2"/>
<line x1="186" y1="545.63" x2="230" y2="545.78" stroke-width="2.2"/>
<line x1="309.6" y1="546.05" x2="330.7" y2="546.12" stroke-width="2.2"/>
<line x1="350.5" y1="546.19" x2="441" y2="546.5" stroke-width="2.2"/>
<line x1="167" y1="513" x2="133" y2="569" stroke-width="2.5"/>
<path d="M125,569.6 H132.2 V714" stroke-width="3.4" fill="none"/>
<line x1="125" y1="569.6" x2="125" y2="701" stroke-width="3.4"/>
<circle cx="-10.3" cy="612" r="20.8" stroke-width="2.6" fill="none"/>
<circle cx="-12.7" cy="612" r="18.2" stroke-width="2.6" fill="none"/>
<line x1="0" y1="644" x2="124" y2="644" stroke-width="2.5"/>
<path d="M-2,651 H94 A22,22 0 0 1 94,695 H-2" stroke-width="2.4" fill="none"/>
<path transform="translate(75.89,677.1) skewX(-12.41) scale(1.1225,0.8714)" d="M5.5,-21 C2,-18 0,-13 0,-8 V-5 C0,-2 1.3,0 3,0 C4.7,0 6,-2 6,-5 V-6.5 C6,-9.5 4.7,-11.5 3,-11.5 C1.3,-11.5 0,-9.5 0,-6.5" vector-effect="non-scaling-stroke" stroke-width="2.6" stroke-linecap="round" stroke-linejoin="round" fill="none"/>
<path transform="translate(88.62,677.1) skewX(-12.41) scale(1.1225,0.8714)" d="M1.5,-3.5 L-0.2,4.7" vector-effect="non-scaling-stroke" stroke-width="2.6" stroke-linecap="round" stroke-linejoin="round" fill="none"/>
<path transform="translate(97.66,677.1) skewX(-12.41) scale(1.1225,0.8714)" d="M3,-21 C5.6,-21 6,-17.5 6,-14 V-7 C6,-3.5 5.6,0 3,0 C0.4,0 0,-3.5 0,-7 V-14 C0,-17.5 0.4,-21 3,-21 Z" vector-effect="non-scaling-stroke" stroke-width="2.6" stroke-linecap="round" stroke-linejoin="round" fill="none"/>
<line x1="68" y1="682" x2="103" y2="682" stroke-width="2.5"/>
<line x1="0" y1="701" x2="124" y2="701" stroke-width="3"/>
<rect x="-2" y="701" width="135" height="13.5" stroke-width="3" fill="none"/>
<line x1="22" y1="707" x2="124" y2="707" stroke-width="2"/>
<line x1="238" y1="427" x2="238" y2="515.5" stroke-width="2"/>
<line x1="237" y1="514" x2="237" y2="500" stroke-width="2"/>
<path d="M230.8,540 H291.6 V553.2 H244.5 V578.4 H230.8 Z" stroke-width="3.4" fill="none"/>
<line x1="237.2" y1="536" x2="237.2" y2="555" stroke-width="2.2"/>
<line x1="237" y1="546.6" x2="291.6" y2="546.6" stroke-width="2"/>
<line x1="237.2" y1="578" x2="237.2" y2="651" stroke-width="2"/>
<g transform="translate(207.5,641.7) rotate(-90)"><path transform="translate(1.30,0) skewX(-14.57) scale(1.2600,0.9675)" d="M0,0 V-20 M7,-20 L0.3,-8.8 M2.4,-11.2 L7,0" vector-effect="non-scaling-stroke" stroke-width="2.6" stroke-linecap="round" stroke-linejoin="round" fill="none"/><path transform="translate(14.75,0) skewX(-14.57) scale(1.2600,0.9000)" d="M3.25,-14 C5.5,-14 6.5,-12 6.5,-9.5 V-4.5 C6.5,-2 5.5,0 3.25,0 C1,0 0,-2 0,-4.5 V-9.5 C0,-12 1,-14 3.25,-14 Z" vector-effect="non-scaling-stroke" stroke-width="2.6" stroke-linecap="round" stroke-linejoin="round" fill="none"/><path transform="translate(27.49,0) skewX(-14.57) scale(1.2600,0.9000)" d="M0,5.5 V-14 M0,-9.8 C0,-12.5 1.3,-14 3.2,-14 C5.2,-14 6.5,-12.5 6.5,-9.8 V-4.2 C6.5,-1.5 5.2,0 3.2,0 C1.3,0 0,-1.5 0,-4.2" vector-effect="non-scaling-stroke" stroke-width="2.6" stroke-linecap="round" stroke-linejoin="round" fill="none"/><path transform="translate(40.23,0) skewX(-14.57) scale(1.2600,0.9000)" d="M0,-14 V-4.2 C0,-1.5 1.3,0 3.2,0 C5.2,0 6.5,-1.5 6.5,-4.2 M6.5,-14 V0" vector-effect="non-scaling-stroke" stroke-width="2.6" stroke-linecap="round" stroke-linejoin="round" fill="none"/><path transform="translate(52.98,0) skewX(-14.57) scale(1.2600,0.9675)" d="M0.5,-20 C4.5,-20 6.5,-17 6.5,-12 V-4.2 C6.5,-1.5 5.2,0 3.2,0 C1.3,0 0,-1.5 0,-4.2 V-7.8 C0,-10.5 1.3,-12 3.2,-12 C5.2,-12 6.5,-10.5 6.5,-7.8" vector-effect="non-scaling-stroke" stroke-width="2.6" stroke-linecap="round" stroke-linejoin="round" fill="none"/><path transform="translate(65.72,0) skewX(-14.57) scale(1.2600,0.9000)" d="M3.25,-14 C5.5,-14 6.5,-12 6.5,-9.5 V-4.5 C6.5,-2 5.5,0 3.25,0 C1,0 0,-2 0,-4.5 V-9.5 C0,-12 1,-14 3.25,-14 Z" vector-effect="non-scaling-stroke" stroke-width="2.6" stroke-linecap="round" stroke-linejoin="round" fill="none"/><path transform="translate(78.46,0) skewX(-14.57) scale(1.2600,0.9000)" d="M0,5.5 V-14 M0,-9.8 C0,-12.5 1.3,-14 3.2,-14 C5.2,-14 6.5,-12.5 6.5,-9.8 V-4.2 C6.5,-1.5 5.2,0 3.2,0 C1.3,0 0,-1.5 0,-4.2" vector-effect="non-scaling-stroke" stroke-width="2.6" stroke-linecap="round" stroke-linejoin="round" fill="none"/></g>
<g transform="translate(300,591.6)"><path transform="translate(1.30,0) skewX(-14.57) scale(1.1200,0.8600)" d="M0,0 V-20 H7 V0" vector-effect="non-scaling-stroke" stroke-width="2.6" stroke-linecap="round" stroke-linejoin="round" fill="none"/><path transform="translate(15.00,0) skewX(-14.57) scale(1.1200,0.8000)" d="M0,5.5 V-14 M0,-9.8 C0,-12.5 1.3,-14 3.2,-14 C5.2,-14 6.5,-12.5 6.5,-9.8 V-4.2 C6.5,-1.5 5.2,0 3.2,0 C1.3,0 0,-1.5 0,-4.2" vector-effect="non-scaling-stroke" stroke-width="2.6" stroke-linecap="round" stroke-linejoin="round" fill="none"/><path transform="translate(27.99,0) skewX(-14.57) scale(1.1200,0.8000)" d="M0,-14 V-4.2 C0,-1.5 1.3,0 3.2,0 C5.2,0 6.5,-1.5 6.5,-4.2 M6.5,-14 V0" vector-effect="non-scaling-stroke" stroke-width="2.6" stroke-linecap="round" stroke-linejoin="round" fill="none"/><path transform="translate(40.97,0) skewX(-14.57) scale(1.1200,0.8000)" d="M0,-14 L6.5,0 M6.5,-14 L0,0" vector-effect="non-scaling-stroke" stroke-width="2.6" stroke-linecap="round" stroke-linejoin="round" fill="none"/><path transform="translate(53.95,0) skewX(-14.57) scale(1.1200,0.8000)" d="M3.25,-14 C5.5,-14 6.5,-12 6.5,-9.5 V-4.5 C6.5,-2 5.5,0 3.25,0 C1,0 0,-2 0,-4.5 V-9.5 C0,-12 1,-14 3.25,-14 Z" vector-effect="non-scaling-stroke" stroke-width="2.6" stroke-linecap="round" stroke-linejoin="round" fill="none"/><path transform="translate(66.94,0) skewX(-14.57) scale(1.1200,0.8000)" d="M0,-14 L9,0 M9,-14 L0,0 M4.5,-14 V0" vector-effect="non-scaling-stroke" stroke-width="2.6" stroke-linecap="round" stroke-linejoin="round" fill="none"/><path transform="translate(83.53,0) skewX(-14.57) scale(1.1200,0.8000)" d="M6.5,-14 V0 M6.5,-4 C6.5,-1.5 5,0 3.2,0 C1.3,0 0,-1.5 0,-4 V-10 C0,-12.5 1.3,-14 3.2,-14 C5,-14 6.5,-12.5 6.5,-10" vector-effect="non-scaling-stroke" stroke-width="2.6" stroke-linecap="round" stroke-linejoin="round" fill="none"/><path transform="translate(96.51,0) skewX(-14.57) scale(1.1200,0.8000)" d="M6.5,0 V-14 H3.2 C1.2,-14 0,-12.5 0,-10.5 C0,-8.5 1.2,-7 3.2,-7 H6.5 M3.6,-7 L0,0" vector-effect="non-scaling-stroke" stroke-width="2.6" stroke-linecap="round" stroke-linejoin="round" fill="none"/></g>
<rect x="230.6" y="651.3" width="12.400000000000006" height="51.200000000000045" stroke-width="3.3" fill="none"/>
<path transform="translate(193.46,688) skewX(-12.41) scale(1.0717,0.8905)" d="M4.4,0 V-21 L-0.5,-5 H6.2" vector-effect="non-scaling-stroke" stroke-width="2.6" stroke-linecap="round" stroke-linejoin="round" fill="none"/>
<path transform="translate(204.82,688) skewX(-12.41) scale(1.0717,0.8905)" d="M1.5,-3.5 L-0.2,4.7" vector-effect="non-scaling-stroke" stroke-width="2.6" stroke-linecap="round" stroke-linejoin="round" fill="none"/>
<path transform="translate(214.27,688) skewX(-12.41) scale(1.0717,0.8905)" d="M4.4,0 V-21 L-0.5,-5 H6.2" vector-effect="non-scaling-stroke" stroke-width="2.6" stroke-linecap="round" stroke-linejoin="round" fill="none"/>
<line x1="183" y1="691.6" x2="223" y2="691.6" stroke-width="2.5"/>
<line x1="144" y1="707.7" x2="166.6" y2="707.7" stroke-width="2.2"/>
<line x1="186" y1="707.7" x2="205" y2="707.7" stroke-width="2.2"/>
<rect x="206.9" y="702.6" width="329.1" height="12.0" stroke-width="3.2" fill="none"/>
<line x1="210" y1="708.5" x2="288" y2="708.5" stroke-width="2.2"/>
<line x1="309" y1="708.5" x2="331" y2="708.5" stroke-width="2.2"/>
<line x1="349" y1="708.5" x2="452" y2="708.5" stroke-width="2.2"/>
<line x1="473" y1="708.5" x2="491" y2="708.5" stroke-width="2.2"/>
<line x1="512" y1="708.5" x2="533" y2="708.5" stroke-width="2.2"/>
<line x1="237" y1="651" x2="237" y2="677.7" stroke-width="1.9"/>
<line x1="237" y1="702" x2="237" y2="716" stroke-width="3.5"/>
<line x1="205.6" y1="716" x2="141" y2="751.4" stroke-width="2.5"/>
<path transform="translate(430.26,675.4) skewX(-12.41) scale(0.9524,0.9524)" d="M5.4,-21 H0.6 L0.3,-11.5 H3 C5,-11.5 6.2,-10 6.2,-7.5 V-4 C6.2,-1.5 4.8,0 2.8,0 H-0.8" vector-effect="non-scaling-stroke" stroke-width="2.6" stroke-linecap="round" stroke-linejoin="round" fill="none"/>
<path transform="translate(442.38,675.4) skewX(-12.41) scale(0.9524,0.9524)" d="M1.5,-3.5 L-0.2,4.7" vector-effect="non-scaling-stroke" stroke-width="2.6" stroke-linecap="round" stroke-linejoin="round" fill="none"/>
<path transform="translate(451.42,675.4) skewX(-12.41) scale(0.9524,0.9524)" d="M0.5,0 C4,-3 6,-8 6,-13 V-16 C6,-19 4.7,-21 3,-21 C1.3,-21 0,-19 0,-16 V-14.5 C0,-11.5 1.3,-9.5 3,-9.5 C4.7,-9.5 6,-11.5 6,-14.5" vector-effect="non-scaling-stroke" stroke-width="2.6" stroke-linecap="round" stroke-linejoin="round" fill="none"/>
<line x1="422" y1="679" x2="456.6" y2="679" stroke-width="2.5"/>
<rect x="500" y="653.6" width="12.899999999999977" height="49.39999999999998" stroke-width="3.5" fill="none"/>
<line x1="507.0" y1="653" x2="507.0" y2="667" stroke-width="1.9"/>
<line x1="507.0" y1="682" x2="507.0" y2="700" stroke-width="1.9"/>
<line x1="507" y1="703" x2="507" y2="716" stroke-width="3.5"/>
<line x1="507" y1="624" x2="507" y2="652" stroke-width="2"/>
<line x1="514" y1="580" x2="551" y2="644" stroke-width="2.5"/>
<line x1="541" y1="666" x2="585" y2="693" stroke-width="2.5"/>
<line x1="537" y1="709.5" x2="596" y2="709.5" stroke-width="2"/>
<polyline points="495,717 454,747 490,791" stroke-width="2.5" fill="none"/>
<line x1="507" y1="717" x2="507" y2="808.6" stroke-width="2.5"/>
<g transform="translate(547.4,809) rotate(-90)"><path transform="translate(1.30,0) skewX(-14.57) scale(1.4000,1.0000)" d="M0,0 V-14 M6,-14 L0.3,-6 M2,-7.8 L6,0" vector-effect="non-scaling-stroke" stroke-width="2.6" stroke-linecap="round" stroke-linejoin="round" fill="none"/><path transform="translate(12.31,0) skewX(-14.57) scale(1.4000,1.0000)" d="M6.5,-14 V0 M6.5,-4 C6.5,-1.5 5,0 3.2,0 C1.3,0 0,-1.5 0,-4 V-10 C0,-12.5 1.3,-14 3.2,-14 C5,-14 6.5,-12.5 6.5,-10" vector-effect="non-scaling-stroke" stroke-width="2.6" stroke-linecap="round" stroke-linejoin="round" fill="none"/><path transform="translate(23.96,0) skewX(-14.57) scale(1.4000,1.0000)" d="M6.5,0 V-14 H3.2 C1.2,-14 0,-12.5 0,-10.5 C0,-8.5 1.2,-7 3.2,-7 H6.5 M3.6,-7 L0,0" vector-effect="non-scaling-stroke" stroke-width="2.6" stroke-linecap="round" stroke-linejoin="round" fill="none"/></g>
<line x1="452.5" y1="541.2" x2="569" y2="541.5" stroke-width="3"/>
<line x1="452.5" y1="539.8" x2="452.5" y2="554" stroke-width="3"/>
<line x1="452.5" y1="552.6" x2="516" y2="552.6" stroke-width="3"/>
<line x1="473" y1="547.5" x2="569" y2="547.9" stroke-width="2.2"/>
<line x1="440" y1="547" x2="452.5" y2="547" stroke-width="2"/>
<line x1="516" y1="555.7" x2="569" y2="555.7" stroke-width="7.5"/>
<line x1="516" y1="567.6" x2="569" y2="567.6" stroke-width="4.6"/>
<line x1="517.5" y1="552" x2="517.5" y2="570" stroke-width="3"/>
<rect x="499" y="552.6" width="15" height="25.899999999999977" stroke-width="3" fill="none"/>
<line x1="507.0" y1="558" x2="507.0" y2="575" stroke-width="1.6"/>
<path d="M305.5,808 V769.6 H429.6 V808" stroke-width="3.2" fill="none"/>
<line x1="346.4" y1="769.6" x2="346.4" y2="808" stroke-width="3"/>
<path transform="translate(364.81,798.1) skewX(-12.41) scale(0.9344,0.8571)" d="M5,-21 L5,0 M1.2,-16.8 L5,-21" vector-effect="non-scaling-stroke" stroke-width="2.6" stroke-linecap="round" stroke-linejoin="round" fill="none"/>
<path transform="translate(377.10,798.1) skewX(-12.41) scale(0.9344,0.8571)" d="M-0.2,-21 H5.2 L0.8,0" vector-effect="non-scaling-stroke" stroke-width="2.6" stroke-linecap="round" stroke-linejoin="round" fill="none"/>
<path transform="translate(388.39,798.1) skewX(-12.41) scale(0.9344,0.8571)" d="M1.5,-3.5 L-0.2,4.7" vector-effect="non-scaling-stroke" stroke-width="2.6" stroke-linecap="round" stroke-linejoin="round" fill="none"/>
<path transform="translate(397.28,798.1) skewX(-12.41) scale(0.9344,0.8571)" d="M3,-21 C4.8,-21 5.5,-19 5.5,-16 C5.5,-13 4.6,-11 3,-11 C1.4,-11 0.5,-13 0.5,-16 C0.5,-19 1.2,-21 3,-21 Z M3,-11 C5,-11 6,-9 6,-5.5 C6,-2 5,0 3,0 C1,0 0,-2 0,-5.5 C0,-9 1,-11 3,-11 Z" vector-effect="non-scaling-stroke" stroke-width="2.6" stroke-linecap="round" stroke-linejoin="round" fill="none"/>
<line x1="230.3" y1="714" x2="228.3" y2="1179" stroke-width="3.8"/>
<line x1="243" y1="714" x2="241.3" y2="1179" stroke-width="3.8"/>
<line x1="235.7" y1="739" x2="235.7" y2="800" stroke-width="2"/>
<line x1="235.7" y1="800" x2="235.7" y2="840" stroke-width="2"/>
<line x1="235.7" y1="860" x2="235.7" y2="881" stroke-width="2"/>
<line x1="235.7" y1="899.5" x2="235.7" y2="1178" stroke-width="2"/>
<g transform="translate(50,992.2)"><path transform="translate(0.05,0) skewX(-14.57) scale(1.2110,0.9299)" d="M7,-16.2 C7,-18.6 5.6,-20 3.5,-20 C0.8,-20 0,-16.5 0,-13 V-7 C0,-3.5 0.8,0 3.5,0 C5.6,0 7,-1.4 7,-3.8" vector-effect="non-scaling-stroke" stroke-width="2.6" stroke-linecap="round" stroke-linejoin="round" fill="none"/><path transform="translate(13.42,0) skewX(-14.57) scale(1.2110,0.8650)" d="M0,0 V-14 M0,-9.8 C0,-12.5 1.3,-14 3.2,-14 C5.2,-14 6.5,-12.5 6.5,-9.8 V0" vector-effect="non-scaling-stroke" stroke-width="2.6" stroke-linecap="round" stroke-linejoin="round" fill="none"/><path transform="translate(26.09,0) skewX(-14.57) scale(1.2110,0.8650)" d="M6.5,-14 V0 M6.5,-4 C6.5,-1.5 5,0 3.2,0 C1.3,0 0,-1.5 0,-4 V-10 C0,-12.5 1.3,-14 3.2,-14 C5,-14 6.5,-12.5 6.5,-10" vector-effect="non-scaling-stroke" stroke-width="2.6" stroke-linecap="round" stroke-linejoin="round" fill="none"/><path transform="translate(38.76,0) skewX(-14.57) scale(1.2110,0.8650)" d="M-0.3,0 C1.8,-2 2.6,-9 2.6,-14 H6.8 V0" vector-effect="non-scaling-stroke" stroke-width="2.6" stroke-linecap="round" stroke-linejoin="round" fill="none"/><path transform="translate(51.84,0) skewX(-14.57) scale(1.2110,0.8650)" d="M0,-14 V0 H3 C5.2,0 6.5,-1.5 6.5,-4 C6.5,-6.5 5.2,-8 3,-8 H0" vector-effect="non-scaling-stroke" stroke-width="2.6" stroke-linecap="round" stroke-linejoin="round" fill="none"/><path transform="translate(64.51,0) skewX(-14.57) scale(1.2110,0.8650)" d="M0,-14 V0 M6.5,-14 V0 M0,-7 H6.5" vector-effect="non-scaling-stroke" stroke-width="2.6" stroke-linecap="round" stroke-linejoin="round" fill="none"/><path transform="translate(77.18,0) skewX(-14.57) scale(1.2110,0.8650)" d="M6.5,0 V-14 H3.2 C1.2,-14 0,-12.5 0,-10.5 C0,-8.5 1.2,-7 3.2,-7 H6.5 M3.6,-7 L0,0" vector-effect="non-scaling-stroke" stroke-width="2.6" stroke-linecap="round" stroke-linejoin="round" fill="none"/></g>
<path transform="translate(155.27,1139.7) skewX(-12.41) scale(1.0530,0.8571)" d="M5,-21 L5,0 M1.2,-16.8 L5,-21" vector-effect="non-scaling-stroke" stroke-width="2.6" stroke-linecap="round" stroke-linejoin="round" fill="none"/>
<path transform="translate(168.05,1139.7) skewX(-12.41) scale(1.0530,0.8571)" d="M-0.2,-21 H5.2 L0.8,0" vector-effect="non-scaling-stroke" stroke-width="2.6" stroke-linecap="round" stroke-linejoin="round" fill="none"/>
<path transform="translate(179.98,1139.7) skewX(-12.41) scale(1.0530,0.8571)" d="M1.5,-3.5 L-0.2,4.7" vector-effect="non-scaling-stroke" stroke-width="2.6" stroke-linecap="round" stroke-linejoin="round" fill="none"/>
<path transform="translate(189.41,1139.7) skewX(-12.41) scale(1.0530,0.8571)" d="M4.4,0 V-21 L-0.5,-5 H6.2" vector-effect="non-scaling-stroke" stroke-width="2.6" stroke-linecap="round" stroke-linejoin="round" fill="none"/>
<line x1="148" y1="1144.7" x2="196" y2="1144.7" stroke-width="2.5"/>
<line x1="0" y1="1179" x2="303" y2="1179" stroke-width="3"/>
<line x1="14" y1="1188.8" x2="188" y2="1188.8" stroke-width="4.5"/>
<line x1="280.6" y1="1188.8" x2="303" y2="1188.8" stroke-width="4.5"/>
<clipPath id="hc4"><rect x="0" y="1192" width="10" height="14"/></clipPath>
<path clip-path="url(#hc4)" d="M-97.60,1187 L-73.60,1211 M-79.00,1187 L-103.00,1211 M-86.60,1187 L-62.60,1211 M-68.00,1187 L-92.00,1211 M-75.60,1187 L-51.60,1211 M-57.00,1187 L-81.00,1211 M-64.60,1187 L-40.60,1211 M-46.00,1187 L-70.00,1211 M-53.60,1187 L-29.60,1211 M-35.00,1187 L-59.00,1211 M-42.60,1187 L-18.60,1211 M-24.00,1187 L-48.00,1211 M-31.60,1187 L-7.60,1211 M-13.00,1187 L-37.00,1211 M-20.60,1187 L3.40,1211 M-2.00,1187 L-26.00,1211 M-9.60,1187 L14.40,1211 M9.00,1187 L-15.00,1211 M1.40,1187 L25.40,1211 M20.00,1187 L-4.00,1211 M12.40,1187 L36.40,1211 M31.00,1187 L7.00,1211 M23.40,1187 L47.40,1211 M42.00,1187 L18.00,1211 M34.40,1187 L58.40,1211 M53.00,1187 L29.00,1211 M45.40,1187 L69.40,1211 M64.00,1187 L40.00,1211 M56.40,1187 L80.40,1211 M75.00,1187 L51.00,1211 M67.40,1187 L91.40,1211 M86.00,1187 L62.00,1211 M78.40,1187 L102.40,1211 M97.00,1187 L73.00,1211" stroke-width="2.6"/>
<line x1="0" y1="1192" x2="10" y2="1192" stroke-width="2"/>
<line x1="0" y1="1206" x2="10" y2="1206" stroke-width="2.5"/>
<line x1="10.5" y1="1179" x2="10.5" y2="1216" stroke-width="3"/>
<line x1="15" y1="1186" x2="15" y2="1216" stroke-width="2.5"/>
<circle cx="16" cy="1189" r="1.6" fill="#fff" stroke="none"/><circle cx="69" cy="1189" r="1.6" fill="#fff" stroke="none"/><circle cx="128" cy="1189" r="1.6" fill="#fff" stroke="none"/>
<line x1="0" y1="1215.8" x2="209.8" y2="1215.8" stroke-width="3.2"/>
<line x1="209.8" y1="1215.8" x2="209.8" y2="1308" stroke-width="3.2"/>
<rect x="188" y="1179" width="92.60000000000002" height="12" stroke-width="2.8" fill="none"/>
<clipPath id="hc5"><rect x="182.5" y="1192" width="104.0" height="14"/></clipPath>
<path clip-path="url(#hc5)" d="M89.40,1187 L113.40,1211 M108.00,1187 L84.00,1211 M100.40,1187 L124.40,1211 M119.00,1187 L95.00,1211 M111.40,1187 L135.40,1211 M130.00,1187 L106.00,1211 M122.40,1187 L146.40,1211 M141.00,1187 L117.00,1211 M133.40,1187 L157.40,1211 M152.00,1187 L128.00,1211 M144.40,1187 L168.40,1211 M163.00,1187 L139.00,1211 M155.40,1187 L179.40,1211 M174.00,1187 L150.00,1211 M166.40,1187 L190.40,1211 M185.00,1187 L161.00,1211 M177.40,1187 L201.40,1211 M196.00,1187 L172.00,1211 M188.40,1187 L212.40,1211 M207.00,1187 L183.00,1211 M199.40,1187 L223.40,1211 M218.00,1187 L194.00,1211 M210.40,1187 L234.40,1211 M229.00,1187 L205.00,1211 M221.40,1187 L245.40,1211 M240.00,1187 L216.00,1211 M232.40,1187 L256.40,1211 M251.00,1187 L227.00,1211 M243.40,1187 L267.40,1211 M262.00,1187 L238.00,1211 M254.40,1187 L278.40,1211 M273.00,1187 L249.00,1211 M265.40,1187 L289.40,1211 M284.00,1187 L260.00,1211 M276.40,1187 L300.40,1211 M295.00,1187 L271.00,1211 M287.40,1187 L311.40,1211 M306.00,1187 L282.00,1211 M298.40,1187 L322.40,1211 M317.00,1187 L293.00,1211 M309.40,1187 L333.40,1211 M328.00,1187 L304.00,1211 M320.40,1187 L344.40,1211 M339.00,1187 L315.00,1211 M331.40,1187 L355.40,1211 M350.00,1187 L326.00,1211 M342.40,1187 L366.40,1211 M361.00,1187 L337.00,1211 M353.40,1187 L377.40,1211 M372.00,1187 L348.00,1211" stroke-width="1.9"/>
<line x1="182.5" y1="1192" x2="286.5" y2="1192" stroke-width="2"/>
<line x1="182.5" y1="1206" x2="286.5" y2="1206" stroke-width="2.8"/>
<line x1="183" y1="1208.3" x2="234" y2="1208.3" stroke-width="2.2"/>
<line x1="182.5" y1="1189" x2="182.5" y2="1215" stroke-width="3.2"/>
<line x1="234.3" y1="1206" x2="234.3" y2="1308" stroke-width="3.4"/>
<line x1="245.3" y1="1206" x2="245.3" y2="1308" stroke-width="3.4"/>
<line x1="245" y1="1207.5" x2="287" y2="1207.5" stroke-width="2.5"/>
<line x1="287" y1="1179" x2="287" y2="1210.3" stroke-width="2.5"/>
<line x1="287" y1="1210.3" x2="303" y2="1210.3" stroke-width="2.5"/>
<rect x="253" y="1275.5" width="50" height="27.5" stroke-width="2.5" fill="none"/>
<line x1="253" y1="1275.5" x2="303" y2="1303" stroke-width="2"/>
<line x1="253" y1="1303" x2="303" y2="1275.5" stroke-width="2"/>
<line x1="209.8" y1="1302" x2="303" y2="1302" stroke-width="3"/>
<rect x="305" y="1170" width="298" height="138" stroke="none" fill="#fff"/>
</svg>
</body></html>
